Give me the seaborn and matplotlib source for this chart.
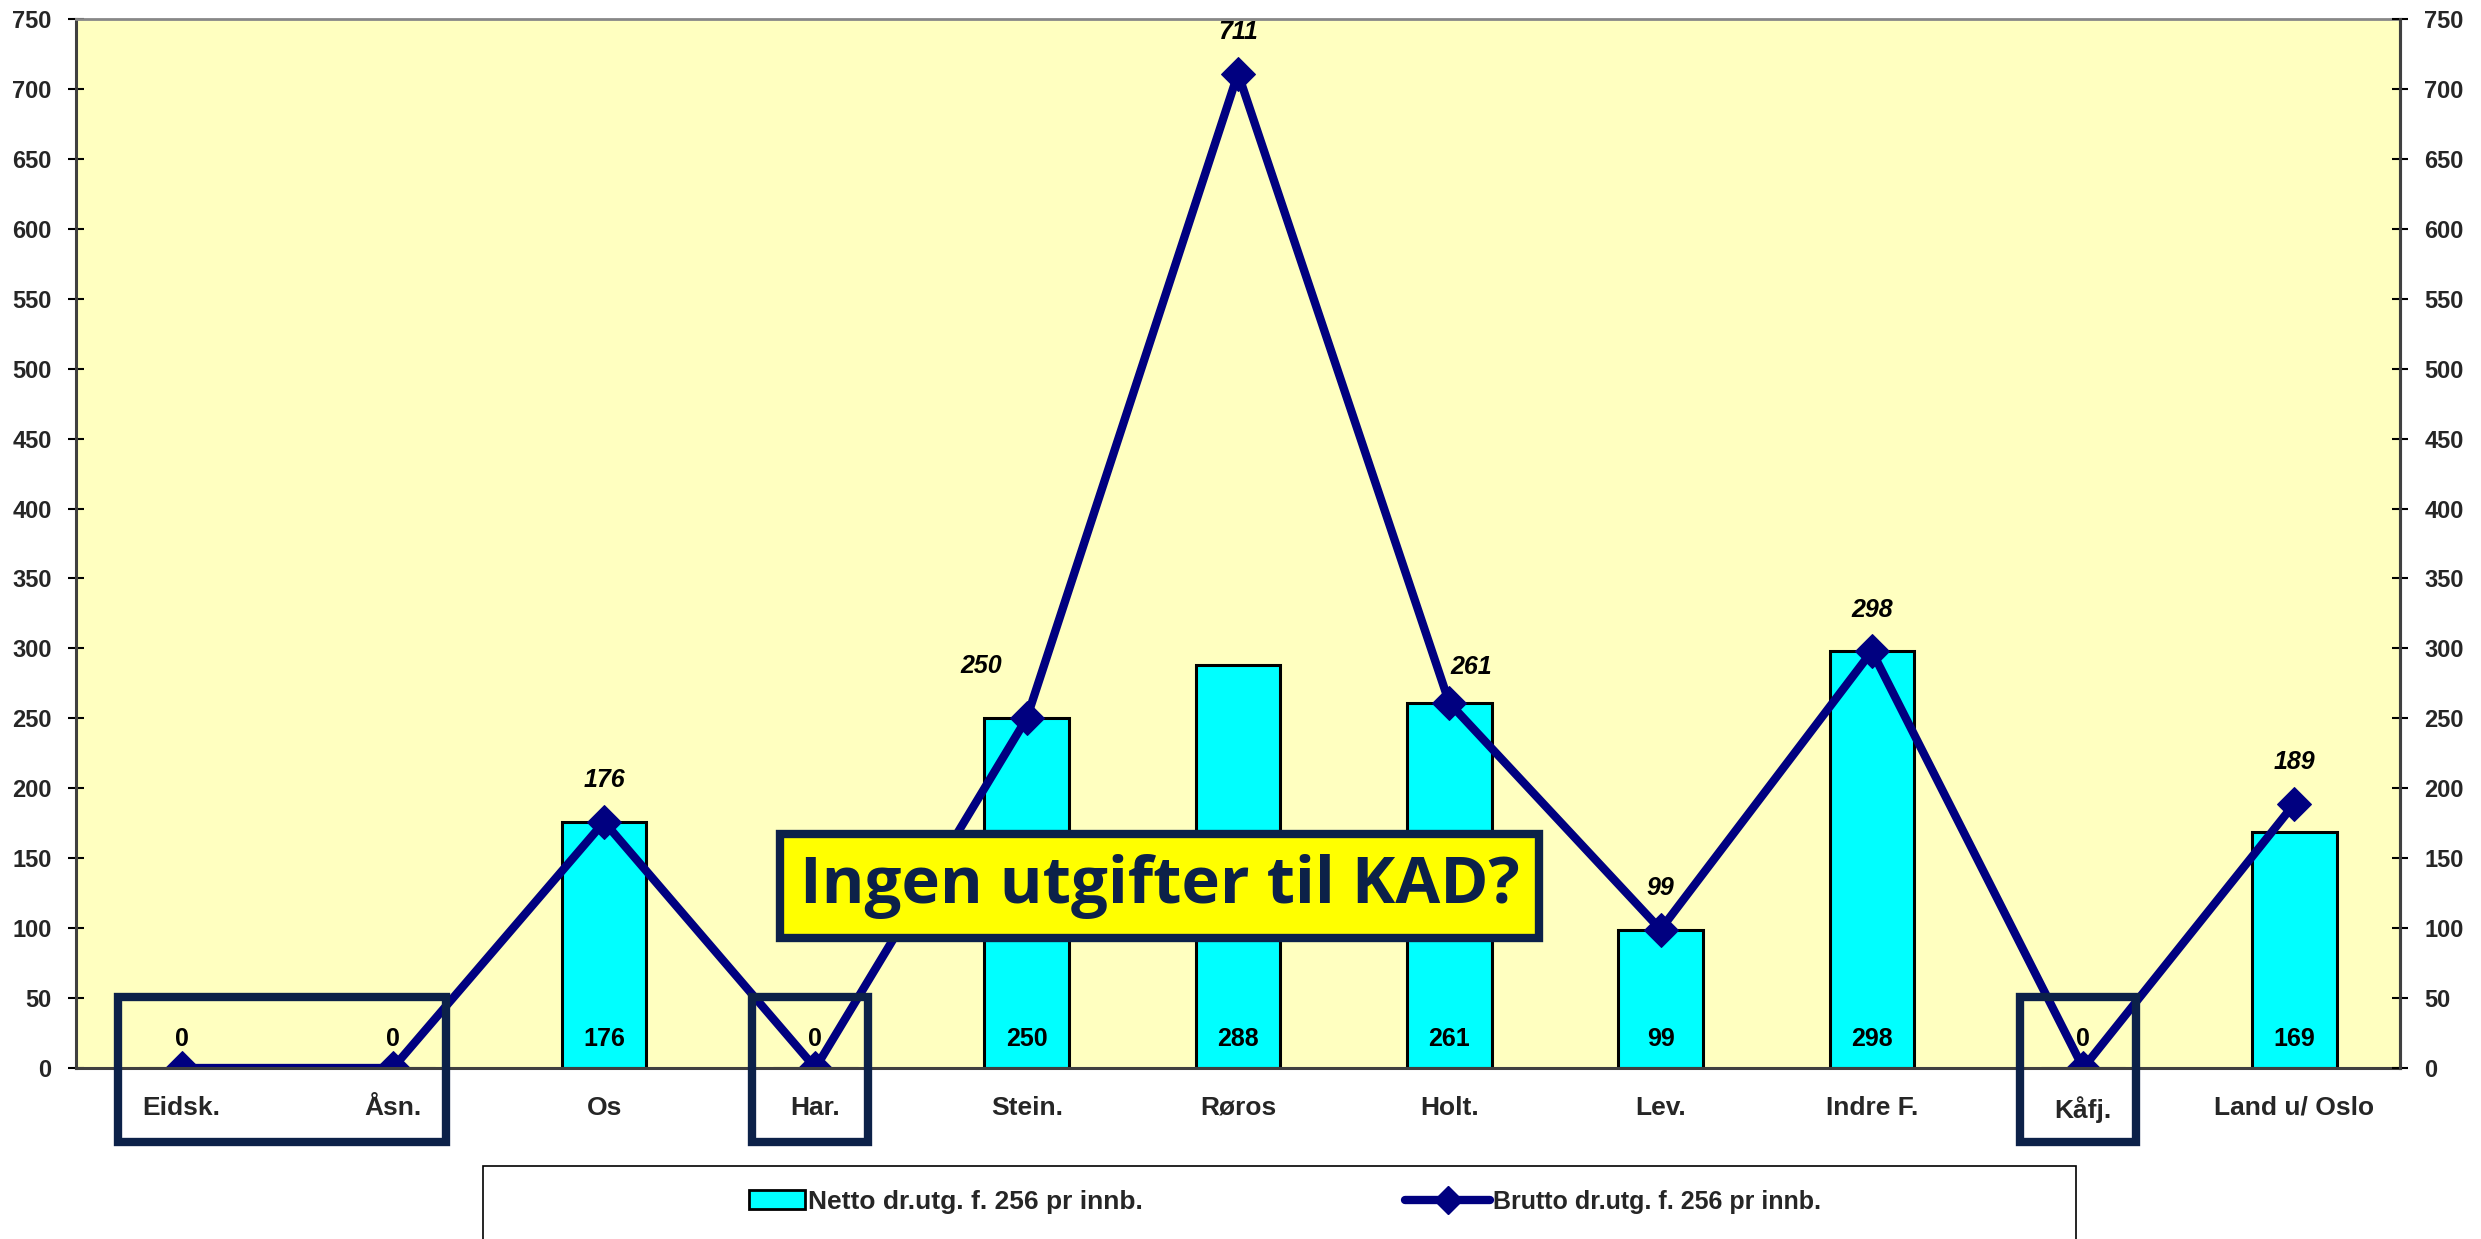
import numpy as np
import pandas as pd
import matplotlib
matplotlib.use('Agg')
import matplotlib.pyplot as plt
import seaborn as sns
from matplotlib.patches import Rectangle, Patch
from matplotlib.lines import Line2D

# --- Data ---
CATEGORIES = ['Eidsk.', 'Åsn.', 'Os', 'Har.', 'Stein.', 'Røros',
              'Holt.', 'Lev.', 'Indre F.', 'Kåfj.', 'Land u/ Oslo']
NETTO = [0, 0, 176, 0, 250, 288, 261, 99, 298, 0, 169]
BRUTTO = [0, 0, 176, 0, 250, 711, 261, 99, 298, 0, 189]
Y_TICKS = list(range(0, 751, 50))
NETTO_LABEL = 'Netto dr.utg. f. 256 pr innb.'
BRUTTO_LABEL = 'Brutto dr.utg. f. 256 pr innb.'
HIGHLIGHT_GROUPS = [('Eidsk.', 'Åsn.'), ('Har.', 'Har.'), ('Kåfj.', 'Kåfj.')]
CALLOUT = 'Ingen utgifter til KAD?'

# --- Style ---
NAVY = '#000080'
BOX_NAVY = '#0c2149'
CYAN = '#00ffff'
PLOT_BG = '#ffffc0'
FONT = ['Liberation Sans Narrow', 'Liberation Sans', 'DejaVu Sans']

sns.set_theme(style='white')
plt.rcParams['font.family'] = FONT
plt.rcParams['font.weight'] = 'bold'

df = pd.DataFrame({'kommune': CATEGORIES, 'netto': NETTO, 'brutto': BRUTTO})
df['pos'] = np.arange(len(df))

fig = plt.figure(figsize=(24.81, 12.39), dpi=100)
ax = fig.add_axes([0.0306, 0.138, 0.9368, 0.8467])
ax.set_facecolor(PLOT_BG)

sns.barplot(data=df, x='kommune', y='netto', order=CATEGORIES, color=CYAN,
            width=0.4, edgecolor='black', linewidth=2.2, saturation=1, ax=ax)
sns.lineplot(data=df, x='pos', y='brutto', color=NAVY, linewidth=6,
             marker='D', markersize=17, markeredgecolor=NAVY, ax=ax)

ax.set_xlim(-0.5, len(CATEGORIES) - 0.5)
ax.set_ylim(0, 750)
ax.set_yticks(Y_TICKS)
ax.set_xlabel('')
ax.set_ylabel('')

# bar value labels (inside, near the base)
for i, v in enumerate(NETTO):
    ax.text(i, 21, f'{v}', ha='center', va='center', fontsize=18,
            fontweight='bold', color='black')

# line value labels (italic, above the markers)
offsets = {4: (-33, 38), 6: (16, 26)}
for i, v in enumerate(BRUTTO):
    if v == 0:
        continue
    dx, dy = offsets.get(i, (0, 30))
    ax.annotate(f'{v}', (i, v), xytext=(dx, dy), textcoords='offset points',
                ha='center', va='center', fontsize=18, fontweight='bold',
                fontstyle='italic', color='black')

# axes and ticks
for side in ['left', 'right', 'bottom']:
    ax.spines[side].set_color('#404040')
    ax.spines[side].set_linewidth(2.2)
ax.spines['top'].set_color('#888888')
ax.spines['top'].set_linewidth(2.0)

ax.set_xticks(range(len(CATEGORIES)))
ax.set_xticklabels(CATEGORIES, fontsize=19, fontweight='bold')
ax.set_xticks(np.arange(-0.5, len(CATEGORIES), 1), minor=True)
ax.tick_params(axis='x', which='major', length=0, pad=20)
ax.tick_params(axis='x', which='minor', direction='inout', length=14,
               width=1.2, color='#404040')
ax.tick_params(axis='y', direction='inout', length=11, width=1.5,
               color='black', labelsize=17, pad=12, left=True)
for lab in ax.get_yticklabels():
    lab.set_fontweight('bold')

ax2 = ax.twinx()
ax2.set_ylim(ax.get_ylim())
ax2.set_yticks(Y_TICKS)
ax2.tick_params(axis='y', direction='inout', length=11, width=1.5,
                color='black', labelsize=17, pad=12, right=True)
for lab in ax2.get_yticklabels():
    lab.set_fontweight('bold')
for side in ['left', 'top', 'bottom']:
    ax2.spines[side].set_visible(False)
ax2.spines['right'].set_color('#404040')
ax2.spines['right'].set_linewidth(2.2)
ax2.grid(False)
ax.grid(False)

# highlight boxes around municipalities with no KAD expenses
for first, last in HIGHLIGHT_GROUPS:
    x0 = CATEGORIES.index(first) - 0.3
    x1 = CATEGORIES.index(last) + 0.25
    ax.add_patch(Rectangle((x0, -53), x1 - x0, 104, fill=False,
                           edgecolor=BOX_NAVY, linewidth=6,
                           clip_on=False, zorder=10))

# callout box
ax.text(4.63, 130, CALLOUT, ha='center', va='center', fontsize=47,
        fontweight='bold', family=['Open Sans', 'DejaVu Sans'],
        color=BOX_NAVY, zorder=12,
        bbox=dict(boxstyle='square,pad=0.3', facecolor='#ffff00',
                  edgecolor=BOX_NAVY, linewidth=6))

# legend frame and entries
fig.patches.append(Rectangle((0.1947, -0.05), 0.6421, 0.109, fill=False,
                             edgecolor='black', linewidth=1.2,
                             transform=fig.transFigure, figure=fig))
netto_handle = Patch(facecolor=CYAN, edgecolor='black', linewidth=2)
brutto_handle = Line2D([], [], color=NAVY, linewidth=6, marker='D',
                       markersize=14)
legend_font = {'weight': 'bold', 'size': 19, 'family': FONT}
fig.legend([netto_handle], [NETTO_LABEL], frameon=False, loc='center left',
           bbox_to_anchor=(0.302, 0.03), handlelength=2.1,
           handletextpad=0.12, borderaxespad=0, borderpad=0, prop=legend_font)
fig.legend([brutto_handle], [BRUTTO_LABEL], frameon=False, loc='center left',
           bbox_to_anchor=(0.5665, 0.03), handlelength=3.4,
           handletextpad=0.12, borderaxespad=0, borderpad=0,
           prop={'weight': 'bold', 'size': 18, 'family': FONT})

fig.savefig('out.png', dpi=100)
